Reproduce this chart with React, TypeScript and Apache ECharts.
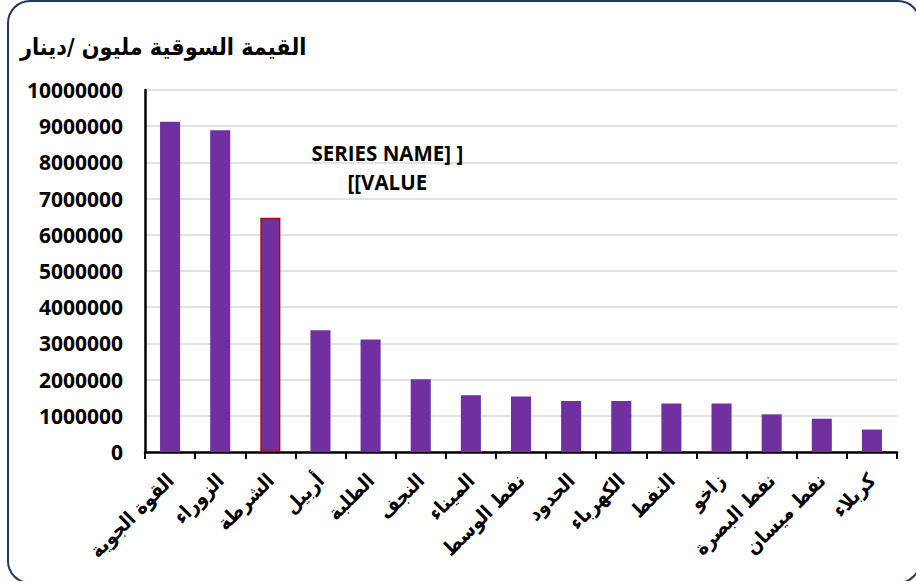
import React, { useEffect, useRef } from "react";
import * as echarts from "echarts";

const categories = [
  "القوة الجوية",
  "الزوراء",
  "الشرطة",
  "أربيل",
  "الطلبة",
  "النجف",
  "الميناء",
  "نفط الوسط",
  "الحدود",
  "الكهرباء",
  "النفط",
  "زاخو",
  "نفط البصرة",
  "نفط ميسان",
  "كربلاء",
];

const values = [
  9120000, 8890000, 6470000, 3360000, 3110000, 2010000, 1570000, 1530000,
  1410000, 1410000, 1340000, 1340000, 1040000, 920000, 620000,
];

const titleText = "القيمة السوقية مليون /دينار";
const highlightIndex = 2;
const highlightLabel = "SERIES NAME] ]\n[[VALUE";

const ARABIC_FONT = "'DejaVu Sans Condensed', 'DejaVu Sans', sans-serif";
const LATIN_FONT = "'Open Sans', 'Liberation Sans', sans-serif";

export default function App() {
  const ref = useRef<HTMLDivElement>(null);

  useEffect(() => {
    if (!ref.current) return;
    const chart = echarts.init(ref.current, undefined, { renderer: "svg" });

    const data = values.map((v, i) =>
      i === highlightIndex
        ? {
            value: v,
            itemStyle: { color: "#7030A0", borderColor: "#C00000", borderWidth: 1.5 },
            label: {
              show: true,
              position: "top",
              formatter: highlightLabel,
              offset: [117, -16],
              fontFamily: LATIN_FONT,
              fontWeight: "bold",
              fontSize: 20.5,
              lineHeight: 29,
              color: "#000",
              align: "center",
            },
          }
        : { value: v }
    );

    chart.setOption({
      animation: false,
      backgroundColor: "#fff",
      graphic: [
        {
          type: "rect",
          shape: { x: 8, y: 1, width: 912, height: 582, r: 22 },
          style: { fill: "none", stroke: "#1F3864", lineWidth: 2 },
          silent: true,
        },
        {
          type: "text",
          x: 20,
          y: 46,
          style: {
            text: titleText,
            fontFamily: ARABIC_FONT,
            fontWeight: "bold",
            fontSize: 23.2,
            fill: "#000",
            textVerticalAlign: "middle",
          },
        },
      ],
      grid: { left: 145, top: 90, right: 19, bottom: 129, containLabel: false },
      xAxis: {
        type: "category",
        data: categories,
        axisLine: { lineStyle: { color: "#000", width: 2.5 } },
        axisTick: { show: true, length: 7, lineStyle: { color: "#000", width: 2 } },
        axisLabel: {
          rotate: 45,
          interval: 0,
          margin: 25,
          fontFamily: ARABIC_FONT,
          fontWeight: "bold",
          fontSize: 20,
          color: "#000",
        },
      },
      yAxis: {
        type: "value",
        min: 0,
        max: 10000000,
        interval: 1000000,
        axisLine: { show: true, lineStyle: { color: "#000", width: 2.5 } },
        axisTick: { show: false },
        splitLine: { lineStyle: { color: "#D9D9D9", width: 1.5 } },
        axisLabel: {
          margin: 22,
          fontFamily: LATIN_FONT,
          fontWeight: "bold",
          fontSize: 21,
          color: "#000",
          formatter: (v: number) => String(v),
        },
      },
      series: [
        {
          type: "bar",
          data,
          barWidth: "40%",
          itemStyle: { color: "#7030A0" },
        },
      ],
    });

    return () => chart.dispose();
  }, []);

  return (
    <div
      ref={ref}
      style={{ position: "fixed", left: 0, top: 0, width: 916, height: 581 }}
    />
  );
}
